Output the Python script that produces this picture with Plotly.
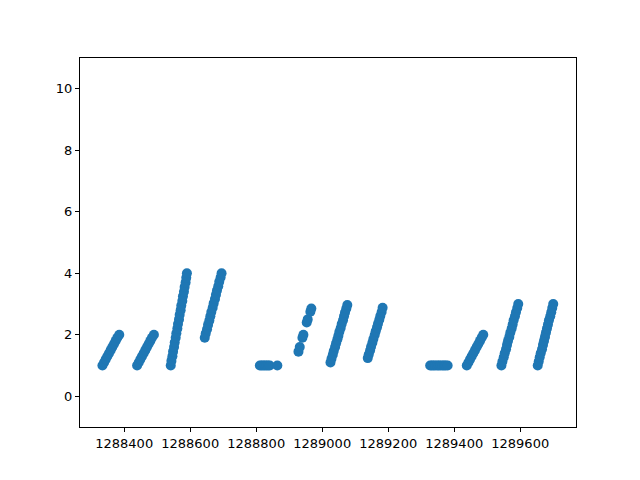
import plotly.graph_objects as go

# Points, grouped by stripe
seg1_x = [1288334, 1288339, 1288344, 1288349, 1288354, 1288359, 1288364, 1288369, 1288374, 1288379, 1288385]
seg1_y = [1.0, 1.1, 1.2, 1.3, 1.4, 1.5, 1.6, 1.7, 1.8, 1.9, 2.0]

seg2_x = [1288439, 1288444, 1288449, 1288454, 1288459, 1288464, 1288469, 1288474, 1288479, 1288484, 1288490]
seg2_y = [1.0, 1.1, 1.2, 1.3, 1.4, 1.5, 1.6, 1.7, 1.8, 1.9, 2.0]

seg3_x = [1288541, 1288543, 1288546, 1288548, 1288551, 1288553, 1288556, 1288558, 1288561, 1288563, 1288566,
          1288568, 1288571, 1288573, 1288576, 1288578, 1288581, 1288583, 1288586, 1288588, 1288590]
seg3_y = [1.0, 1.15, 1.3, 1.45, 1.6, 1.75, 1.9, 2.05, 2.2, 2.35, 2.5,
          2.65, 2.8, 2.95, 3.1, 3.25, 3.4, 3.55, 3.7, 3.85, 4.0]

seg4_x = [1288644, 1288647, 1288651, 1288654, 1288658, 1288661, 1288664, 1288668,
          1288671, 1288675, 1288678, 1288681, 1288685, 1288688, 1288692, 1288695]
seg4_y = [1.9, 2.04, 2.18, 2.32, 2.46, 2.6, 2.74, 2.88, 3.02, 3.16, 3.3, 3.44, 3.58, 3.72, 3.86, 4.0]

seg5_x = [1288811, 1288816, 1288821, 1288826, 1288831, 1288836, 1288841, 1288864]
seg5_y = [1.0, 1.0, 1.0, 1.0, 1.0, 1.0, 1.0, 1.0]

seg6_x = [1288928, 1288932, 1288940, 1288943, 1288953, 1288956, 1288964, 1288967]
seg6_y = [1.45, 1.6, 1.9, 2.0, 2.4, 2.5, 2.75, 2.85]

seg7_x = [1289025, 1289028, 1289032, 1289035, 1289039, 1289042, 1289046, 1289049,
          1289052, 1289056, 1289059, 1289063, 1289066, 1289069, 1289073, 1289076]
seg7_y = [1.1, 1.22, 1.35, 1.47, 1.6, 1.72, 1.85, 1.97, 2.1, 2.22, 2.35, 2.47, 2.6, 2.72, 2.85, 2.97]

seg8_x = [1289138, 1289141, 1289145, 1289148, 1289152, 1289155, 1289159,
          1289162, 1289166, 1289169, 1289173, 1289176, 1289180, 1289183]
seg8_y = [1.24, 1.36, 1.49, 1.61, 1.74, 1.86, 1.99, 2.11, 2.24, 2.36, 2.49, 2.61, 2.74, 2.88]

seg9_x = [1289327, 1289332, 1289337, 1289342, 1289348, 1289353, 1289358, 1289364, 1289369, 1289374, 1289380]
seg9_y = [1.0, 1.0, 1.0, 1.0, 1.0, 1.0, 1.0, 1.0, 1.0, 1.0, 1.0]

seg10_x = [1289438, 1289443, 1289448, 1289453, 1289458, 1289463, 1289468, 1289473, 1289478, 1289483, 1289488]
seg10_y = [1.0, 1.1, 1.2, 1.3, 1.4, 1.5, 1.6, 1.7, 1.8, 1.9, 2.0]

seg11_x = [1289543, 1289546, 1289550, 1289553, 1289557, 1289560, 1289563, 1289567,
           1289570, 1289574, 1289577, 1289580, 1289584, 1289587, 1289591, 1289594]
seg11_y = [1.0, 1.13, 1.27, 1.4, 1.53, 1.67, 1.8, 1.93, 2.07, 2.2, 2.33, 2.47, 2.6, 2.73, 2.87, 3.0]

seg12_x = [1289653, 1289656, 1289659, 1289662, 1289666, 1289669, 1289672, 1289675,
           1289678, 1289681, 1289684, 1289687, 1289691, 1289694, 1289697, 1289700]
seg12_y = [1.0, 1.13, 1.27, 1.4, 1.53, 1.67, 1.8, 1.93, 2.07, 2.2, 2.33, 2.47, 2.6, 2.73, 2.87, 3.0]

x_ticks = [1288400, 1288600, 1288800, 1289000, 1289200, 1289400, 1289600]
x_tick_labels = ["1288400", "1288600", "1288800", "1289000", "1289200", "1289400", "1289600"]
y_ticks = [0, 2, 4, 6, 8, 10]
y_tick_labels = ["0", "2", "4", "6", "8", "10"]

xs = (seg1_x + seg2_x + seg3_x + seg4_x + seg5_x + seg6_x + seg7_x + seg8_x
      + seg9_x + seg10_x + seg11_x + seg12_x)
ys = (seg1_y + seg2_y + seg3_y + seg4_y + seg5_y + seg6_y + seg7_y + seg8_y
      + seg9_y + seg10_y + seg11_y + seg12_y)

fig = go.Figure()
fig.add_trace(go.Scatter(
    x=xs, y=ys, mode="markers",
    marker=dict(color="#1f77b4", size=10, line=dict(width=0)),
    showlegend=False, hoverinfo="skip",
))

axis_common = dict(
    showline=True, linecolor="black", linewidth=1, mirror=True,
    ticks="outside", ticklen=4, tickwidth=1, tickcolor="black",
    showgrid=False, zeroline=False,
    tickfont=dict(family="DejaVu Sans", size=13, color="black"),
)

fig.update_layout(
    width=640, height=480,
    margin=dict(l=80, r=64, t=58, b=53),
    paper_bgcolor="white", plot_bgcolor="white",
    xaxis=dict(range=[1288266, 1289769], tickvals=x_ticks, ticktext=x_tick_labels, **axis_common),
    yaxis=dict(range=[-1, 11], tickvals=y_ticks, ticktext=y_tick_labels, **axis_common),
)

fig.write_html("out.html")
